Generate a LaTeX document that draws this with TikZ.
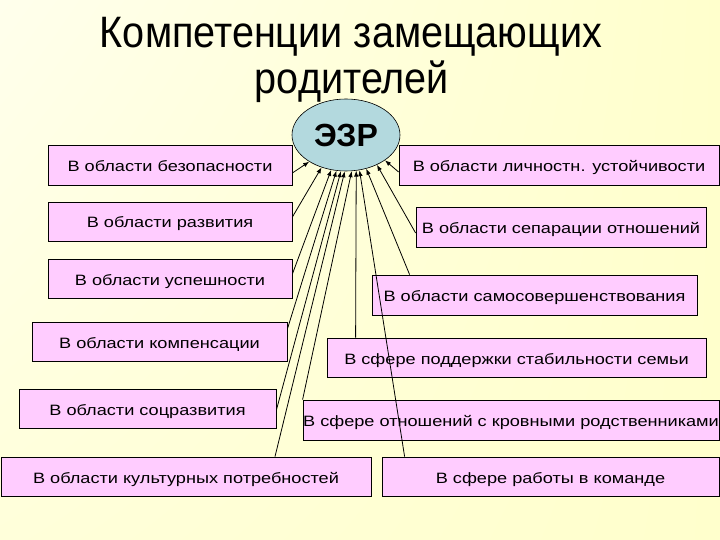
\documentclass[tikz,border=0pt]{standalone}
\usepackage{fontspec}
\setmainfont{Liberation Sans}
\usetikzlibrary{shapes.geometric,arrows.meta,shadings}
\definecolor{bgA}{HTML}{FFFFEC}
\definecolor{bgB}{HTML}{FFFFCC}
\definecolor{bgC}{HTML}{FFFFDA}
\definecolor{boxpink}{HTML}{FFCCFF}
\definecolor{ezrblue}{HTML}{B3D9DE}
\newcommand{\bxt}[1]{\scalebox{1.21}[1]{#1}}
\newcommand{\ttlt}[1]{\scalebox{0.9}[1]{#1}}
\begin{document}
\begin{tikzpicture}[x=1pt,y=-1pt,
  box/.style={draw=black, line width=0.8pt, fill=boxpink, inner sep=0pt,
    text height=13pt, text depth=0pt, font=\fontsize{15}{16}\selectfont},
  arr/.style={-{Latex[length=6pt,width=4.5pt]}, line width=0.8pt},
  ttl/.style={anchor=base, inner sep=0pt, font=\fontsize{44}{50}\selectfont}]
\shade[upper left=bgA, upper right=bgB, lower left=bgC, lower right=bgB] (0,0) rectangle (720,540);
\useasboundingbox (0,0) rectangle (720,540);

\node[ttl] (t1) at (351,48) {\ttlt{Компетенции замещающих}};
\node[ttl] (t2) at (352,94) {\ttlt{родителей}};

\node[ellipse, draw=black, line width=0.6pt, fill=ezrblue, minimum width=108pt,
  minimum height=72pt, inner sep=0pt, font=\bfseries\fontsize{32}{32}\selectfont]
  (ezr) at (346,135) {ЭЗР};

% left boxes
\node[box, minimum width=244pt, minimum height=40pt] (b1) at (170,165) {\bxt{В области безопасности}};
\node[box, minimum width=244pt, minimum height=39pt] (b2) at (170,221.5) {\bxt{В области развития}};
\node[box, minimum width=244pt, minimum height=39pt] (b3) at (170,278.5) {\bxt{В области успешности}};
\node[box, minimum width=255pt, minimum height=39pt] (b4) at (159.5,341.5) {\bxt{В области компенсации}};
\node[box, minimum width=257pt, minimum height=39pt] (b5) at (147.5,408.5) {\bxt{В области соцразвития}};
\node[box, minimum width=370pt, minimum height=39pt] (b6) at (186,476.5) {\bxt{В области культурных потребностей}};

% right boxes
\node[box, minimum width=320pt, minimum height=40pt] (r1) at (559,165) {\bxt{В области личностн. устойчивости}};
\node[box, minimum width=290pt, minimum height=40pt] (r2) at (561,227) {\bxt{В области сепарации отношений}};
\node[box, minimum width=325pt, minimum height=40pt] (r3) at (534.5,295) {\bxt{В области самосовершенствования}};
\node[box, minimum width=379pt, minimum height=39pt] (r4) at (516.5,357.5) {\bxt{В сфере поддержки стабильности семьи}};
\node[box, minimum width=416pt, minimum height=40pt] (r5) at (511,420) {\bxt{В сфере отношений с кровными родственниками}};
\node[box, minimum width=337pt, minimum height=39pt] (r6) at (550.5,476.5) {\bxt{В сфере работы в команде}};

% connectors
\draw[arr] ([yshift=-8pt]b1.east) -- (ezr.216);
\draw[arr] ([yshift=4.5pt]b2.east) -- (ezr.233);
\draw[arr] ([yshift=4.5pt]b3.east) -- (ezr.247);
\draw[arr] ([yshift=12.5pt]b4.east) -- (ezr.255);
\draw[arr] ([yshift=-1.5pt]b5.east) -- (ezr.262);
\draw[arr] ([xshift=89pt]b6.north) -- (ezr.268);
\draw[arr] (r5.north west) -- (ezr.279);
\draw[arr] ([xshift=29pt]r4.north west) -- (ezr.286);
\draw[arr] ([xshift=23pt]r6.north west) -- (ezr.291);
\draw[arr] ([xshift=38pt]r3.north west) -- (ezr.301);
\draw[arr] ([yshift=-6pt]r2.west) -- (ezr.316);
\draw[arr] ([yshift=-7pt]r1.west) -- (ezr.327);
\end{tikzpicture}
\end{document}
